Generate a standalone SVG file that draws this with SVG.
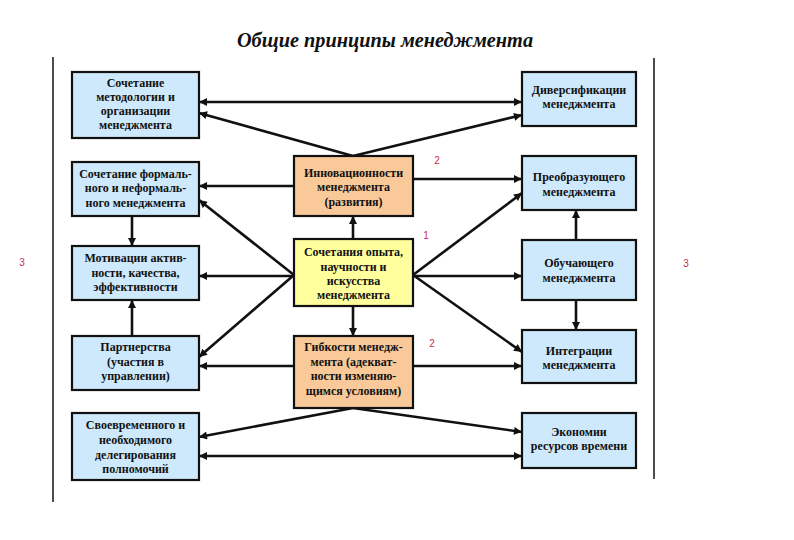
<svg xmlns="http://www.w3.org/2000/svg" width="794" height="540" viewBox="0 0 794 540">
<style>
.box{stroke:#111;stroke-width:2.2}
.blue{fill:#cde9fb}
.orange{fill:#f9c99a}
.yellow{fill:#ffff9e}
.t{font-family:"Liberation Serif","DejaVu Serif",serif;font-weight:bold;font-size:12px;fill:#111;text-anchor:middle}
.title{font-family:"Liberation Serif","DejaVu Serif",serif;font-weight:bold;font-style:italic;font-size:20.3px;fill:#111;text-anchor:middle}
.num{font-family:"Liberation Sans","DejaVu Sans",sans-serif;font-size:10px;fill:#c8304a;text-anchor:middle}
.c{stroke:#111;stroke-width:2.6;fill:none;marker-end:url(#ah)}
.cc{stroke:#111;stroke-width:2.6;fill:none;marker-end:url(#ah);marker-start:url(#ah)}
.vl{stroke:#111;stroke-width:1.5}
</style>
<defs>
<marker id="ah" viewBox="0 0 10 10" refX="10" refY="5" markerWidth="9" markerHeight="8" markerUnits="userSpaceOnUse" orient="auto-start-reverse">
<path d="M0,0 L10,5 L0,10 z" fill="#111"/>
</marker>
</defs>
<rect width="794" height="540" fill="#fff"/>
<text class="title" x="385" y="47">Общие принципы менеджмента</text>
<line class="vl" x1="53" y1="57" x2="53" y2="502"/>
<line class="vl" x1="654" y1="58" x2="654" y2="479"/>

<g id="connectors">
<line class="cc" x1="199" y1="102" x2="522" y2="102"/>
<line class="c" x1="353" y1="156" x2="199" y2="113"/>
<line class="c" x1="353" y1="156" x2="522" y2="115"/>
<line class="c" x1="294" y1="186" x2="199" y2="186"/>
<line class="c" x1="413" y1="179" x2="522" y2="179"/>
<line class="c" x1="353" y1="239" x2="353" y2="216"/>
<line class="c" x1="294" y1="275" x2="199" y2="200"/>
<line class="c" x1="294" y1="276" x2="199" y2="276"/>
<line class="c" x1="294" y1="275" x2="199" y2="357"/>
<line class="c" x1="413" y1="275" x2="522" y2="193"/>
<line class="c" x1="413" y1="276" x2="522" y2="276"/>
<line class="c" x1="413" y1="275" x2="522" y2="352"/>
<line class="c" x1="353" y1="306" x2="353" y2="336"/>
<line class="c" x1="294" y1="366" x2="199" y2="366"/>
<line class="c" x1="413" y1="366" x2="522" y2="366"/>
<line class="c" x1="353" y1="408" x2="199" y2="437"/>
<line class="c" x1="353" y1="408" x2="522" y2="432"/>
<line class="cc" x1="199" y1="456" x2="522" y2="456"/>
<line class="c" x1="132" y1="216" x2="132" y2="246"/>
<line class="c" x1="132" y1="336" x2="132" y2="300"/>
<line class="c" x1="576" y1="240" x2="576" y2="210"/>
<line class="c" x1="576" y1="300" x2="576" y2="330"/>
</g>

<g id="L1"><rect class="box blue" x="72" y="72" width="127" height="66"/>
<text class="t" x="135.5" y="87">Сочетание</text><text class="t" x="135.5" y="101">методологии и</text><text class="t" x="135.5" y="115">организации</text><text class="t" x="135.5" y="129">менеджмента</text></g>
<g id="L2"><rect class="box blue" x="72" y="162" width="127" height="54"/>
<text class="t" x="135.5" y="178">Сочетание формаль-</text><text class="t" x="135.5" y="192">ного и неформаль-</text><text class="t" x="135.5" y="207">ного менеджмента</text></g>
<g id="L3"><rect class="box blue" x="72" y="246" width="127" height="54"/>
<text class="t" x="135.5" y="262">Мотивации актив-</text><text class="t" x="135.5" y="277">ности, качества,</text><text class="t" x="135.5" y="291">эффективности</text></g>
<g id="L4"><rect class="box blue" x="72" y="336" width="127" height="54"/>
<text class="t" x="135.5" y="351">Партнерства</text><text class="t" x="135.5" y="366">(участия в</text><text class="t" x="135.5" y="380">управлении)</text></g>
<g id="L5"><rect class="box blue" x="72" y="413" width="127" height="67"/>
<text class="t" x="135.5" y="429">Своевременного и</text><text class="t" x="135.5" y="444">необходимого</text><text class="t" x="135.5" y="459">делегирования</text><text class="t" x="135.5" y="473">полномочий</text></g>

<g id="R1"><rect class="box blue" x="522" y="72" width="114" height="54"/>
<text class="t" x="579" y="94">Диверсификации</text><text class="t" x="579" y="108">менеджмента</text></g>
<g id="R2"><rect class="box blue" x="522" y="156" width="114" height="54"/>
<text class="t" x="579" y="181">Преобразующего</text><text class="t" x="579" y="196">менеджмента</text></g>
<g id="R3"><rect class="box blue" x="522" y="240" width="114" height="60"/>
<text class="t" x="579" y="267">Обучающего</text><text class="t" x="579" y="282">менеджмента</text></g>
<g id="R4"><rect class="box blue" x="522" y="330" width="114" height="53"/>
<text class="t" x="579" y="355">Интеграции</text><text class="t" x="579" y="369">менеджмента</text></g>
<g id="R5"><rect class="box blue" x="522" y="413" width="114" height="55"/>
<text class="t" x="579" y="436">Экономии</text><text class="t" x="579" y="450">ресурсов времени</text></g>

<g id="C1"><rect class="box orange" x="294" y="156" width="119" height="60"/>
<text class="t" x="353.5" y="177">Инновационности</text><text class="t" x="353.5" y="191">менеджмента</text><text class="t" x="353.5" y="206">(развития)</text></g>
<g id="C2"><rect class="box yellow" x="294" y="239" width="119" height="67"/>
<text class="t" x="353.5" y="256">Сочетания опыта,</text><text class="t" x="353.5" y="271">научности и</text><text class="t" x="353.5" y="285">искусства</text><text class="t" x="353.5" y="299">менеджмента</text></g>
<g id="C3"><rect class="box orange" x="294" y="336" width="119" height="72"/>
<text class="t" x="353.5" y="351">Гибкости менедж-</text><text class="t" x="353.5" y="366">мента (адекват-</text><text class="t" x="353.5" y="380">ности изменяю-</text><text class="t" x="353.5" y="395">щимся условиям)</text></g>

<text class="num" x="437" y="164">2</text>
<text class="num" x="426" y="239">1</text>
<text class="num" x="22" y="266">3</text>
<text class="num" x="686" y="267">3</text>
<text class="num" x="432" y="347">2</text>
</svg>
